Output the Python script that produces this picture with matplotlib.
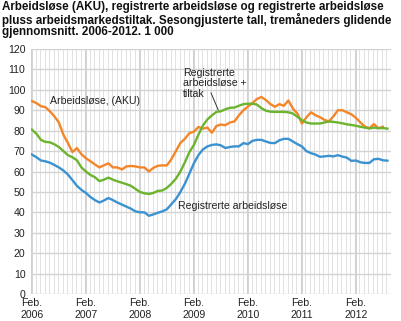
import numpy as np
import matplotlib
matplotlib.use("Agg")
import matplotlib.pyplot as plt

plt.rcParams['font.family'] = ['Liberation Sans', 'DejaVu Sans']

# Months from Feb 2006 (index 0) to Sep 2012 (index 79)
aku = [94.5, 93.5, 92, 91.5, 89.5, 87, 84, 78, 74, 69.5,
       71.5, 68.5, 66.5, 65, 63.5, 62, 63, 64, 62, 62,
       61, 62.5, 62.7, 62.5, 62, 62, 60, 61.8, 62.8, 63,
       63, 66, 70, 74, 76, 78.8, 79.5, 81.8, 81, 81.5,
       79, 82.3, 83, 82.7, 84, 84.5, 87.5, 90, 91.8, 93.5,
       95.5, 96.5, 95, 93, 91.7, 93, 92.2, 94.8, 90.8, 88.4,
       83.5, 86.5, 89, 87.6, 86.6, 85.3, 84.5, 87, 90, 90,
       89, 88, 86.3, 84, 82, 81.2, 83.2, 81.2, 81.9, None]

reg_tiltak = [80.5, 78.5, 75.5, 74.5, 74.3, 73.3, 72, 70, 68, 67,
              65.5, 62, 60, 58.3, 57.2, 55.3, 56, 57, 56, 55.2,
              54.5, 53.8, 53, 51.5, 50, 49.3, 49, 49.5, 50.5, 50.7,
              52, 54, 56.5, 60, 64.5, 69.5, 73, 78, 82.5, 85.5,
              87.5, 89.2, 89.5, 90.5, 91.2, 91.3, 92.2, 93, 93.2, 93.2,
              92.8, 91, 89.8, 89.3, 89.2, 89.2, 89.2, 89, 88.4, 86.8,
              85.2, 84, 83.5, 83.5, 83.5, 84, 84.5, 84.3, 84, 83.6,
              83.1, 82.8, 82.4, 81.9, 81.5, 81.1, 81.5, 81.2, 81.3, 81]

registrerte = [68.3, 67, 65.4, 65, 64.3, 63.2, 62, 60.5, 58.5, 55.8,
               53, 51, 49.5, 47.5, 46, 44.8, 45.8, 47, 46, 44.8,
               43.8, 42.8, 41.8, 40.5, 40, 40, 38.3, 39, 39.8, 40.5,
               41.5, 44, 46.5, 50, 54, 59, 64, 68, 70.8, 72.3,
               73, 73.3, 72.8, 71.5, 72, 72.3, 72.3, 73.9, 73.4, 75,
               75.5, 75.5, 74.7, 74, 73.9, 75.3, 76, 76, 74.7, 73.4,
               72.3, 70, 69, 68.3, 67.2, 67.4, 67.7, 67.4, 68, 67.3,
               66.8, 65.2, 65.4, 64.5, 64.2, 64.2, 66, 66.2, 65.5, 65.3]

tick_labels = ["Feb.\n2006", "Feb.\n2007", "Feb.\n2008", "Feb.\n2009",
               "Feb.\n2010", "Feb.\n2011", "Feb.\n2012"]
y_ticks = [0, 10, 20, 30, 40, 50, 60, 70, 80, 90, 100, 110, 120]

title = ("Arbeidsløse (AKU), registrerte arbeidsløse og registrerte arbeidsløse\n"
         "pluss arbeidsmarkedstiltak. Sesongjusterte tall, tremåneders glidende\n"
         "gjennomsnitt. 2006-2012. 1 000")

W, H = 401, 321
fig = plt.figure(figsize=(W / 100, H / 100), dpi=100)
ax = fig.add_axes([31 / W, 1 - 294 / H, 360 / W, 245 / H])

x = np.arange(len(registrerte))
aku_arr = np.array([np.nan if v is None else v for v in aku], dtype=float)

# grid
for m in range(0, 81):
    ax.axvline(m - 0.2, color='#e2e2e2', lw=0.7, zorder=0)
for k in range(0, 7):
    ax.axvline(12 * k, color='#cdcdcd', lw=1.2, zorder=0)
for yv in y_ticks:
    ax.axhline(yv, color='#d3d3d3', lw=1.0, zorder=0)

ax.plot(x, aku_arr, color='#F4862A', lw=1.7, zorder=3, solid_joinstyle='round')
ax.plot(x, reg_tiltak, color='#6CB42E', lw=1.7, zorder=3, solid_joinstyle='round')
ax.plot(x, registrerte, color='#3A93D0', lw=1.7, zorder=3, solid_joinstyle='round')

ax.set_xlim(-0.2, 79.8)
ax.set_ylim(0, 120)
ax.set_yticks(y_ticks)
ax.set_yticklabels([str(v) for v in y_ticks], fontsize=7.6, color='#222222')
ax.set_xticks([12 * k for k in range(7)])
ax.set_xticklabels(tick_labels, fontsize=7.6, color='#222222', linespacing=1.15)
ax.tick_params(axis='y', length=0, pad=4)
ax.tick_params(axis='x', length=0, pad=3.2)
for s in ax.spines.values():
    s.set_visible(False)

ax.text(4, 94.5, "Arbeidsløse, (AKU)", fontsize=7.6, va='center', ha='left', color='#222222')
ax.text(33.6, 103.2, "Registrerte\narbeidsløse +\ntiltak", fontsize=7.6, va='center',
        ha='left', color='#222222', linespacing=1.1)
ax.plot([39.8, 41.4], [98.5, 90.2], color='#333333', lw=0.7, zorder=4)
ax.text(32.5, 43.3, "Registrerte arbeidsløse", fontsize=7.6, va='center', ha='left',
        color='#222222')

fig.text(2 / W, 1 - 1 / H, title, fontsize=8.4, fontweight='bold', va='top', ha='left',
         linespacing=0.97, color='#111111')

fig.savefig("out.png", dpi=100)
